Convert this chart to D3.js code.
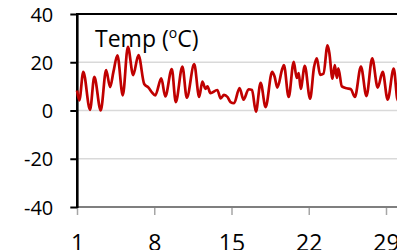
<!DOCTYPE html>
<html><head><meta charset="utf-8">
<script src="https://cdn.jsdelivr.net/npm/d3@7"></script>
<style>html,body{margin:0;padding:0;background:#fff;overflow:hidden}svg{display:block}</style>
</head><body>
<svg id="c" width="397" height="250"></svg>
<script>
// day (fractional) and temperature (°C)
const days = [1.00,1.21,1.57,2.18,2.57,3.15,3.64,4.00,4.30,4.66,5.15,5.61,6.09,6.57,7.09,7.48,7.79,8.09,8.64,9.00,
  9.59,9.95,10.55,10.95,11.62,12.07,12.36,12.64,12.82,13.09,13.71,14.02,14.32,14.64,14.91,15.23,15.73,16.09,16.55,16.86,
  17.21,17.64,18.09,18.68,18.91,19.15,19.61,19.75,20.18,20.64,20.91,21.09,21.27,21.64,22.12,22.48,22.73,23.03,23.34,23.70,
  23.86,24.15,24.36,24.55,24.68,25.00,25.45,25.82,26.18,26.73,27.23,27.75,28.25,28.70,29.15,29.70,30.06,30.36];
const temps = [8.3,4.2,16,0.3,13.9,0,16.7,9.7,16,22.9,6.3,26.4,14.7,23,11,9.5,7.5,6.3,13.3,5.8,
  17.2,3.5,18.2,5.3,19.2,5.6,12,9,10,7.2,8.5,5,6.5,5.6,3.5,3,9.3,4.5,8.8,8.5,
  -0.5,11.5,1.4,16,14,9.5,17.4,18.8,5.6,20.2,13.5,15.5,9,18.5,4.9,18,21.6,14.8,15.3,27,
  24,13.2,18.8,13.5,17.5,10,9.2,8.8,5.6,18.2,6,21.6,9.5,16,4.5,17.4,4.2,10];
const yTicks = [-40,-20,0,20,40];
const xTicks = [1,8,15,22,29];
const title = "Temp (";
const titleSup = "o";
const titleEnd = "C)";

const svg = d3.select("#c");
const font = "'Open Sans', sans-serif";
const x = d3.scaleLinear().domain([1,29]).range([77,386]);
const y = d3.scaleLinear().domain([-40,40]).range([207,14]);

// gridlines
svg.append("g").selectAll("line").data(yTicks.filter(d=>d>-40&&d<40)).join("line")
  .attr("x1",77).attr("x2",397).attr("y1",d=>y(d)).attr("y2",d=>y(d))
  .attr("stroke","#d9d9d9").attr("stroke-width",1.5);

// bottom axis
const xAxis = svg.append("g").attr("transform",`translate(0,${y(-40)})`)
  .call(d3.axisBottom(x).tickValues(xTicks).tickSize(8).tickFormat(d=>String(d)));
xAxis.select(".domain").remove();
xAxis.selectAll(".tick line").attr("stroke","#a6a6a6").attr("stroke-width",1.5);
xAxis.selectAll(".tick text").attr("font-family",font).attr("font-size",23).attr("fill","#000").attr("dy",null).attr("y",44);
svg.append("line").attr("x1",77).attr("x2",397).attr("y1",y(-40)).attr("y2",y(-40))
  .attr("stroke","#7f7f7f").attr("stroke-width",2);

// top border
svg.append("line").attr("x1",76).attr("x2",397).attr("y1",y(40)).attr("y2",y(40))
  .attr("stroke","#000").attr("stroke-width",2.2);

// left axis
const yAxis = svg.append("g").attr("transform","translate(77.3,0)")
  .call(d3.axisLeft(y).tickValues(yTicks).tickSize(7).tickFormat(d=>String(d)));
yAxis.select(".domain").remove();
yAxis.selectAll(".tick line").attr("stroke","#000").attr("stroke-width",2);
yAxis.selectAll(".tick text").attr("font-family",font).attr("font-size",20).attr("fill","#000").attr("x",-24).attr("dy","0.35em");
svg.append("line").attr("x1",77.3).attr("x2",77.3).attr("y1",13).attr("y2",y(-40)+1)
  .attr("stroke","#000").attr("stroke-width",2.6);

// series line
const line = d3.line().x((d,i)=>x(days[i])).y(d=>y(d)).curve(d3.curveMonotoneX);
svg.append("path").datum(temps).attr("d",line).attr("fill","none")
  .attr("stroke","#c00000").attr("stroke-width",2.7).attr("stroke-linejoin","round");

// label
const t = svg.append("text").attr("x",95).attr("y",47).attr("font-family",font).attr("font-size",23).attr("fill","#000");
t.append("tspan").text(title);
t.append("tspan").text(titleSup).attr("font-size",14).attr("dy",-9);
t.append("tspan").text(titleEnd).attr("dy",9);
</script>
</body></html>
